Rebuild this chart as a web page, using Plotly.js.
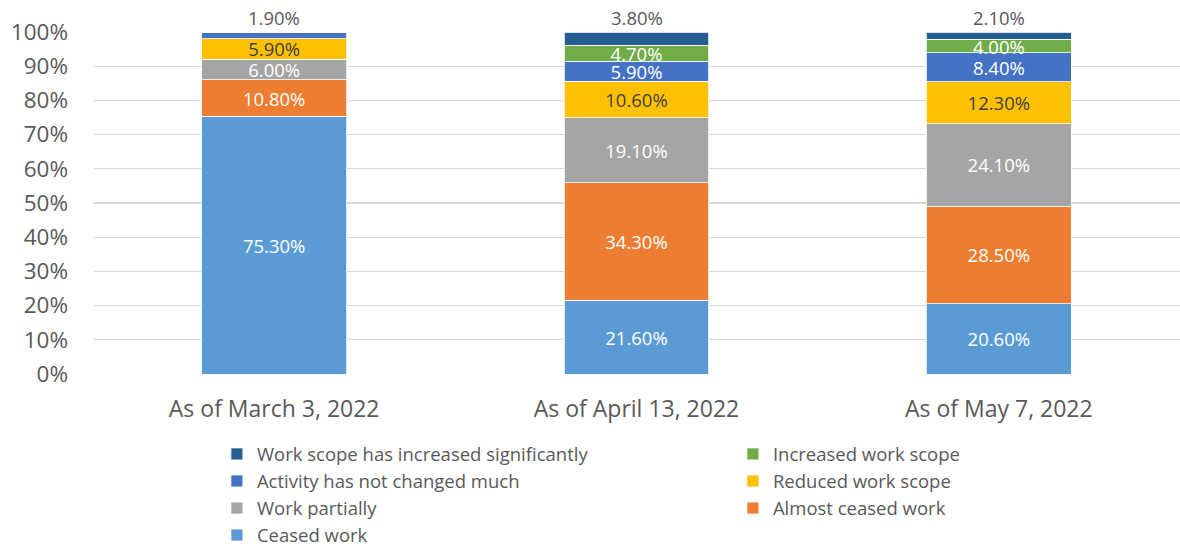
<!DOCTYPE html>
<html>
<head>
<meta charset="utf-8">
<script src="https://cdn.plot.ly/plotly-3.0.1.min.js"></script>
<style>html,body{margin:0;padding:0;background:#fff;}#chart{width:1180px;height:547px;}</style>
</head>
<body>
<div id="chart"></div>
<script>
const categories = ["As of March 3, 2022", "As of April 13, 2022", "As of May 7, 2022"];
const seriesNames = ["Ceased work", "Almost ceased work", "Work partially", "Reduced work scope",
  "Activity has not changed much", "Increased work scope", "Work scope has increased significantly"];
const ceasedWork = [75.3, 21.6, 20.6];
const almostCeased = [10.8, 34.3, 28.5];
const workPartially = [6.0, 19.1, 24.1];
const reducedScope = [5.9, 10.6, 12.3];
const notChanged = [1.9, 5.9, 8.4];
const increasedScope = [0, 4.7, 4.0];
const increasedSignificantly = [0, 3.8, 2.1];
const yTicks = [0,10,20,30,40,50,60,70,80,90,100];

const seriesValues = [ceasedWork, almostCeased, workPartially, reducedScope, notChanged, increasedScope, increasedSignificantly];
const colors = ["#5B9BD5", "#ED7D31", "#A5A5A5", "#FFC000", "#4472C4", "#70AD47", "#255E91"];
const textColors = ["#ffffff", "#ffffff", "#ffffff", "#404040", "#ffffff", "#ffffff", "#ffffff"];
const FONT = "Open Sans, Segoe UI, sans-serif";

// topmost non-zero series per category (its label sits above the bar)
const topIndex = categories.map((c, ci) => {
  let t = 0;
  seriesValues.forEach((s, si) => { if (s[ci] > 0) t = si; });
  return t;
});
const totals = categories.map((c, ci) => seriesValues.reduce((a, s) => a + s[ci], 0));

const traces = seriesValues.map((vals, si) => ({
  type: "bar",
  name: seriesNames[si],
  x: categories,
  y: vals,
  text: vals.map((v, ci) => (v > 0 && topIndex[ci] !== si) ? v.toFixed(2) + "%" : ""),
  textposition: "inside",
  insidetextanchor: "middle",
  constraintext: "none",
  textangle: 0,
  textfont: {family: FONT, size: 18.5, color: textColors[si]},
  marker: {color: colors[si], line: {color: "#ffffff", width: 0.8}},
  hoverinfo: "name+y"
}));

const annotations = categories.map((c, ci) => ({
  x: c, y: totals[ci], xref: "x", yref: "y",
  text: seriesValues[topIndex[ci]][ci].toFixed(2) + "%",
  showarrow: false, yanchor: "bottom", yshift: 0,
  font: {family: FONT, size: 18.5, color: "#595959"}
}));

const layout = {
  width: 1180, height: 547,
  margin: {l: 93, r: 0, t: 32, b: 173, autoexpand: false},
  barmode: "stack",
  bargap: 0.6,
  paper_bgcolor: "#ffffff",
  plot_bgcolor: "#ffffff",
  font: {family: FONT, color: "#595959"},
  xaxis: {
    showgrid: false, showline: false, zeroline: false,
    tickfont: {family: FONT, size: 23, color: "#595959"},
    ticklabelstandoff: 19
  },
  yaxis: {
    range: [0, 100], tickvals: yTicks, ticktext: yTicks.map(v => v + "%"),
    showgrid: true, gridcolor: "#D9D9D9", gridwidth: 1.3,
    zeroline: false, showline: false,
    tickfont: {family: FONT, size: 22.5, color: "#595959"},
    ticklabelstandoff: 24
  },
  legend: {
    orientation: "h", traceorder: "reversed",
    x: 0.114, xanchor: "left", y: -0.1795, yanchor: "top",
    entrywidth: 471, entrywidthmode: "pixels",
    font: {family: FONT, size: 18.5, color: "#595959"},
    itemclick: false
  },
  annotations: annotations,
  showlegend: true
};

Plotly.newPlot("chart", traces, layout, {displayModeBar: false, staticPlot: true});
</script>
</body>
</html>
